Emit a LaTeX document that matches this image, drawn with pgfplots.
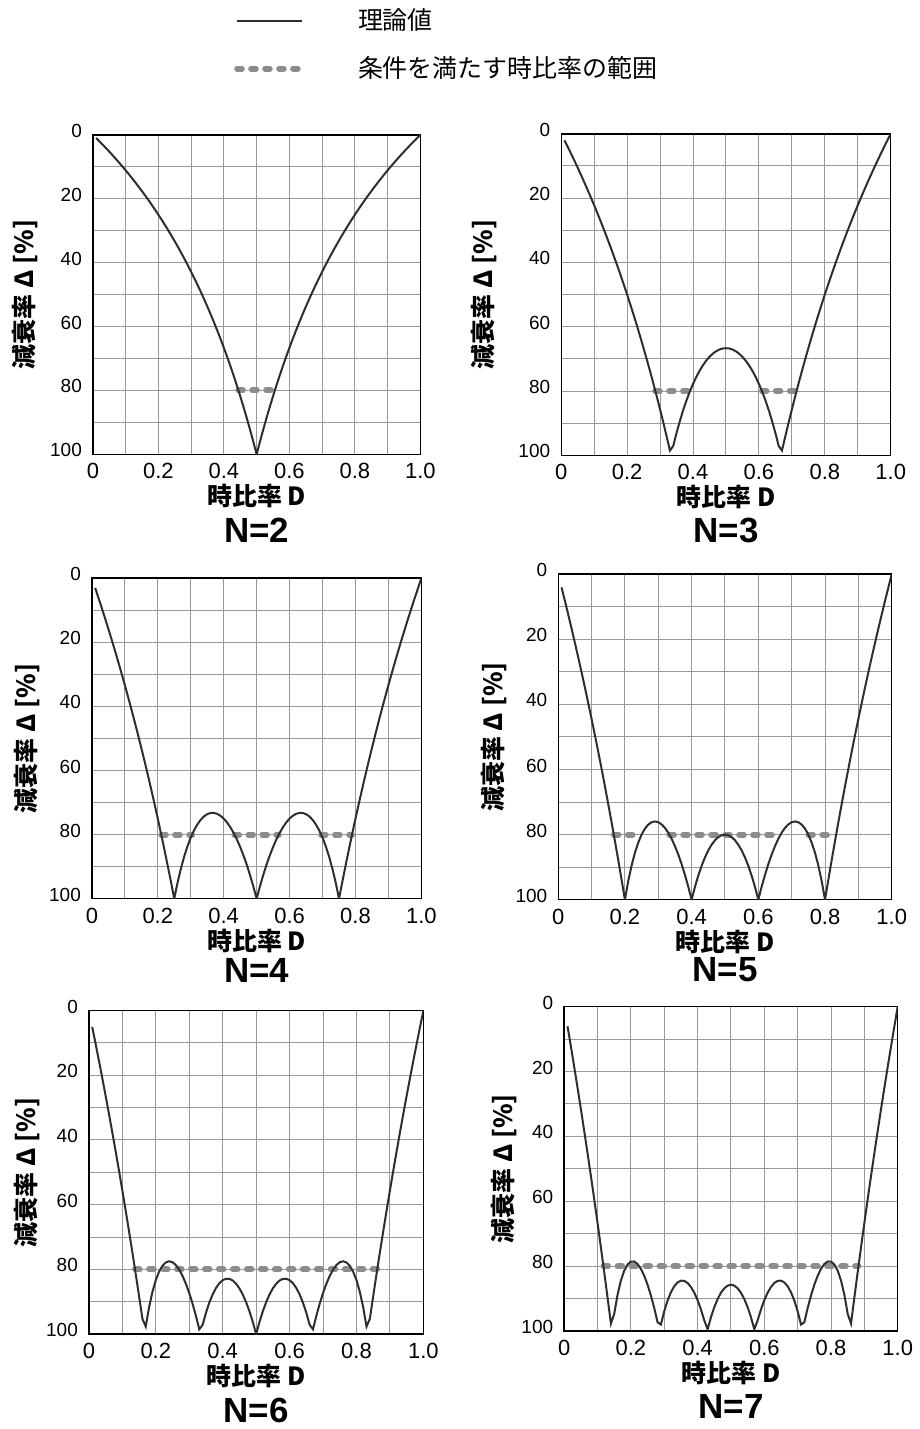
\documentclass[border=0pt]{standalone}
\usepackage{fontspec}
\usepackage{pgfplots}
\usepackage{pgfplotstable}
\pgfplotsset{compat=1.18}
\setmainfont{Liberation Sans}
\newfontfamily\jp{Noto Sans CJK JP}

\pgfplotstableread{
D n2 n3 n4 n5 n6 n7
0.01 1.01 2.02 3.03 4.04 5.05 6.06
0.02 2.04 4.08 6.12 8.16 10.20 12.24
0.03 3.09 6.19 9.28 12.37 15.46 18.56
0.04 4.17 8.33 12.50 16.67 20.83 25.00
0.05 5.26 10.53 15.79 21.05 26.32 31.58
0.06 6.38 12.77 19.15 25.53 31.91 38.30
0.07 7.53 15.05 22.58 30.11 37.63 45.16
0.08 8.70 17.39 26.09 34.78 43.48 52.17
0.09 9.89 19.78 29.67 39.56 49.45 59.34
0.10 11.11 22.22 33.33 44.44 55.56 66.67
0.11 12.36 24.72 37.08 49.44 61.80 74.16
0.12 13.64 27.27 40.91 54.55 68.18 81.82
0.13 14.94 29.89 44.83 59.77 74.71 89.66
0.14 16.28 32.56 48.84 65.12 81.40 97.67
0.15 17.65 35.29 52.94 70.59 88.24 94.68
0.16 19.05 38.10 57.14 76.19 95.24 88.78
0.17 20.48 40.96 61.45 81.93 97.68 84.42
0.18 21.95 43.90 65.85 87.80 91.69 81.38
0.19 23.46 46.91 70.37 93.83 86.96 79.48
0.20 25.00 50.00 75.00 100 83.33 78.57
0.21 26.58 53.16 79.75 94.27 80.67 78.55
0.22 28.21 56.41 84.62 89.51 78.87 79.32
0.23 29.87 59.74 89.61 85.60 77.83 80.81
0.24 31.58 63.16 94.74 82.46 77.49 82.96
0.25 33.33 66.67 100 80.00 77.78 85.71
0.26 35.14 70.27 95.01 78.17 78.66 89.04
0.27 36.99 73.97 90.66 76.92 80.08 92.90
0.28 38.89 77.78 86.90 76.19 82.01 97.28
0.29 40.85 81.69 83.68 75.96 84.43 97.98
0.30 42.86 85.71 80.95 76.19 87.30 93.88
0.31 44.93 89.86 78.68 76.86 90.62 90.58
0.32 47.06 94.12 76.84 77.94 94.36 88.03
0.33 49.25 98.51 75.40 79.42 98.52 86.18
0.34 51.52 97.09 74.33 81.28 97.15 85.00
0.35 53.85 93.04 73.63 83.52 93.41 84.46
0.36 56.25 89.35 73.26 86.11 90.28 84.52
0.37 58.73 86.00 73.23 89.06 87.73 85.17
0.38 61.29 82.97 73.51 92.36 85.74 86.39
0.39 63.93 80.23 74.11 96.01 84.28 88.16
0.40 66.67 77.78 75.00 100 83.33 90.48
0.41 69.49 75.60 76.19 96.07 82.89 93.32
0.42 72.41 73.67 77.67 92.61 82.92 96.69
0.43 75.44 72.00 79.44 89.60 83.44 99.42
0.44 78.57 70.56 81.49 87.01 84.42 95.73
0.45 81.82 69.36 83.84 84.85 85.86 92.64
0.46 85.19 68.38 86.47 83.09 87.76 90.13
0.47 88.68 67.63 89.40 81.73 90.12 88.19
0.48 92.31 67.09 92.63 80.77 92.95 86.81
0.49 96.08 66.77 96.16 80.19 96.24 85.99
0.50 100 66.67 100 80.00 100 85.71
0.51 96.08 66.77 96.16 80.19 96.24 85.99
0.52 92.31 67.09 92.63 80.77 92.95 86.81
0.53 88.68 67.63 89.40 81.73 90.12 88.19
0.54 85.19 68.38 86.47 83.09 87.76 90.13
0.55 81.82 69.36 83.84 84.85 85.86 92.64
0.56 78.57 70.56 81.49 87.01 84.42 95.73
0.57 75.44 72.00 79.44 89.60 83.44 99.42
0.58 72.41 73.67 77.67 92.61 82.92 96.69
0.59 69.49 75.60 76.19 96.07 82.89 93.32
0.60 66.67 77.78 75.00 100 83.33 90.48
0.61 63.93 80.23 74.11 96.01 84.28 88.16
0.62 61.29 82.97 73.51 92.36 85.74 86.39
0.63 58.73 86.00 73.23 89.06 87.73 85.17
0.64 56.25 89.35 73.26 86.11 90.28 84.52
0.65 53.85 93.04 73.63 83.52 93.41 84.46
0.66 51.52 97.09 74.33 81.28 97.15 85.00
0.67 49.25 98.51 75.40 79.42 98.52 86.18
0.68 47.06 94.12 76.84 77.94 94.36 88.03
0.69 44.93 89.86 78.68 76.86 90.62 90.58
0.70 42.86 85.71 80.95 76.19 87.30 93.88
0.71 40.85 81.69 83.68 75.96 84.43 97.98
0.72 38.89 77.78 86.90 76.19 82.01 97.28
0.73 36.99 73.97 90.66 76.92 80.08 92.90
0.74 35.14 70.27 95.01 78.17 78.66 89.04
0.75 33.33 66.67 100 80.00 77.78 85.71
0.76 31.58 63.16 94.74 82.46 77.49 82.96
0.77 29.87 59.74 89.61 85.60 77.83 80.81
0.78 28.21 56.41 84.62 89.51 78.87 79.32
0.79 26.58 53.16 79.75 94.27 80.67 78.55
0.80 25.00 50.00 75.00 100 83.33 78.57
0.81 23.46 46.91 70.37 93.83 86.96 79.48
0.82 21.95 43.90 65.85 87.80 91.69 81.38
0.83 20.48 40.96 61.45 81.93 97.68 84.42
0.84 19.05 38.10 57.14 76.19 95.24 88.78
0.85 17.65 35.29 52.94 70.59 88.24 94.68
0.86 16.28 32.56 48.84 65.12 81.40 97.67
0.87 14.94 29.89 44.83 59.77 74.71 89.66
0.88 13.64 27.27 40.91 54.55 68.18 81.82
0.89 12.36 24.72 37.08 49.44 61.80 74.16
0.90 11.11 22.22 33.33 44.44 55.56 66.67
0.91 9.89 19.78 29.67 39.56 49.45 59.34
0.92 8.70 17.39 26.09 34.78 43.48 52.17
0.93 7.53 15.05 22.58 30.11 37.63 45.16
0.94 6.38 12.77 19.15 25.53 31.91 38.30
0.95 5.26 10.53 15.79 21.05 26.32 31.58
0.96 4.17 8.33 12.50 16.67 20.83 25.00
0.97 3.09 6.19 9.28 12.37 15.46 18.56
0.98 2.04 4.08 6.12 8.16 10.20 12.24
0.99 1.01 2.02 3.03 4.04 5.05 6.06
1.00 0 0 0 0 0 0
}\data

\tikzset{
  theoryline/.style={color=black!82, line width=1pt},
  rangeline/.style={color=black!45, line width=3pt, line cap=round, dash pattern=on 2.3pt off 4.7pt},
}
\pgfplotsset{
  every axis title shift=0pt,
  pane/.style={
    scale only axis, anchor=south west,
    xmin=0, xmax=1, ymin=0, ymax=100, y dir=reverse,
    xtick={0,0.2,0.4,0.6,0.8,1}, xticklabels={0,0.2,0.4,0.6,0.8,1.0},
    minor xtick={0.1,0.3,0.5,0.7,0.9},
    ytick={0,20,40,60,80,100}, yticklabels={0,20,40,60,80,100},
    minor ytick={10,30,50,70,90},
    grid=both,
    grid style={black!40, line width=0.5pt},
    minor grid style={black!40, line width=0.5pt},
    major grid style={black!40, line width=0.5pt},
    major tick length=0pt, minor tick length=0pt,
    axis line style={black, line width=0.7pt},
    xticklabel style={font=\fontsize{11}{11}\selectfont, yshift=-1pt},
    yticklabel style={font=\fontsize{9.5}{9.5}\selectfont, xshift=-2pt, yshift=2pt},
    xlabel={\jp\bfseries 時比率 D},
    ylabel={\jp\bfseries 減衰率 Δ [\%]},
    label style={font=\jp\bfseries\fontsize{12.5}{13}\selectfont},
    xlabel style={at={([yshift=-21pt]axis description cs:0.5,0)}, anchor=center},
    title style={font=\bfseries\fontsize{17.5}{18}\selectfont, anchor=center},
  },
}

\begin{document}
\begin{tikzpicture}
\path (0,0) rectangle (451pt,-714.5pt);

% N=2
\begin{axis}[pane, at={(46.5pt,-227.5pt)}, width=164pt, height=160pt,
  ylabel style={at={([xshift=-34pt]axis description cs:0,0.5)}, anchor=center},
  title={N=2}, title style={at={([yshift=-38pt]axis description cs:0.5,0)}},
  legend style={at={(axis description cs:0.412,1.415)}, anchor=north west, draw=none, fill=none,
    font=\jp\fontsize{12.5}{13}\selectfont, nodes={inner sep=1pt}, row sep=10pt,
    /tikz/every odd column/.style={column sep=25.5pt}},
  legend cell align=left,
  legend image code/.code={\draw[#1] (0pt,0pt) -- (32.5pt,0pt);},
]
\addlegendimage{theoryline}
\addlegendentry{理論値}
\addlegendimage{rangeline}
\addlegendentry{条件を満たす時比率の範囲}
\addplot[rangeline, forget plot] coordinates {(0.444,80) (0.556,80)};
\addplot[theoryline, forget plot] table[x=D, y=n2] {\data};
\end{axis}

% N=3
\begin{axis}[pane, at={(281pt,-228pt)}, width=165pt, height=161pt,
  ylabel style={at={([xshift=-38.5pt]axis description cs:0,0.5)}, anchor=center},
  title={N=3}, title style={at={([yshift=-37.5pt]axis description cs:0.5,0)}},
]
\addplot[rangeline] coordinates {(0.285,80) (0.391,80)};
\addplot[rangeline] coordinates {(0.609,80) (0.715,80)};
\addplot[theoryline] table[x=D, y=n3] {\data};
\end{axis}

% N=4
\begin{axis}[pane, at={(46pt,-450pt)}, width=165pt, height=160.5pt,
  ylabel style={at={([xshift=-32.5pt]axis description cs:0,0.5)}, anchor=center},
  title={N=4}, title style={at={([yshift=-36pt]axis description cs:0.5,0)}},
]
\addplot[rangeline] coordinates {(0.2105,80) (0.3042,80)};
\addplot[rangeline] coordinates {(0.4327,80) (0.5673,80)};
\addplot[rangeline] coordinates {(0.6958,80) (0.7895,80)};
\addplot[theoryline] table[x=D, y=n4] {\data};
\end{axis}

% N=5
\begin{axis}[pane, at={(279.5pt,-450.5pt)}, width=167pt, height=163pt,
  ylabel style={at={([xshift=-32pt]axis description cs:0,0.5)}, anchor=center},
  title={N=5}, title style={at={([yshift=-35pt]axis description cs:0.5,0)}},
]
\addplot[rangeline] coordinates {(0.1669,80) (0.25,80)};
\addplot[rangeline] coordinates {(0.3331,80) (0.6669,80)};
\addplot[rangeline] coordinates {(0.75,80) (0.8331,80)};
\addplot[theoryline] table[x=D, y=n5] {\data};
\end{axis}

% N=6
\begin{axis}[pane, at={(44.5pt,-668pt)}, width=167.5pt, height=162pt,
  ylabel style={at={([xshift=-31pt]axis description cs:0,0.5)}, anchor=center},
  title={N=6}, title style={at={([yshift=-38pt]axis description cs:0.5,0)}},
]
\addplot[rangeline] coordinates {(0.138,80) (0.862,80)};
\addplot[theoryline] table[x=D, y=n6] {\data};
\end{axis}

% N=7
\begin{axis}[pane, at={(282.5pt,-666.5pt)}, width=167pt, height=162.5pt,
  ylabel style={at={([xshift=-30pt]axis description cs:0,0.5)}, anchor=center},
  title={N=7}, title style={at={([yshift=-37.5pt]axis description cs:0.5,0)}},
]
\addplot[rangeline] coordinates {(0.118,80) (0.882,80)};
\addplot[theoryline] table[x=D, y=n7] {\data};
\end{axis}
\end{tikzpicture}
\end{document}
